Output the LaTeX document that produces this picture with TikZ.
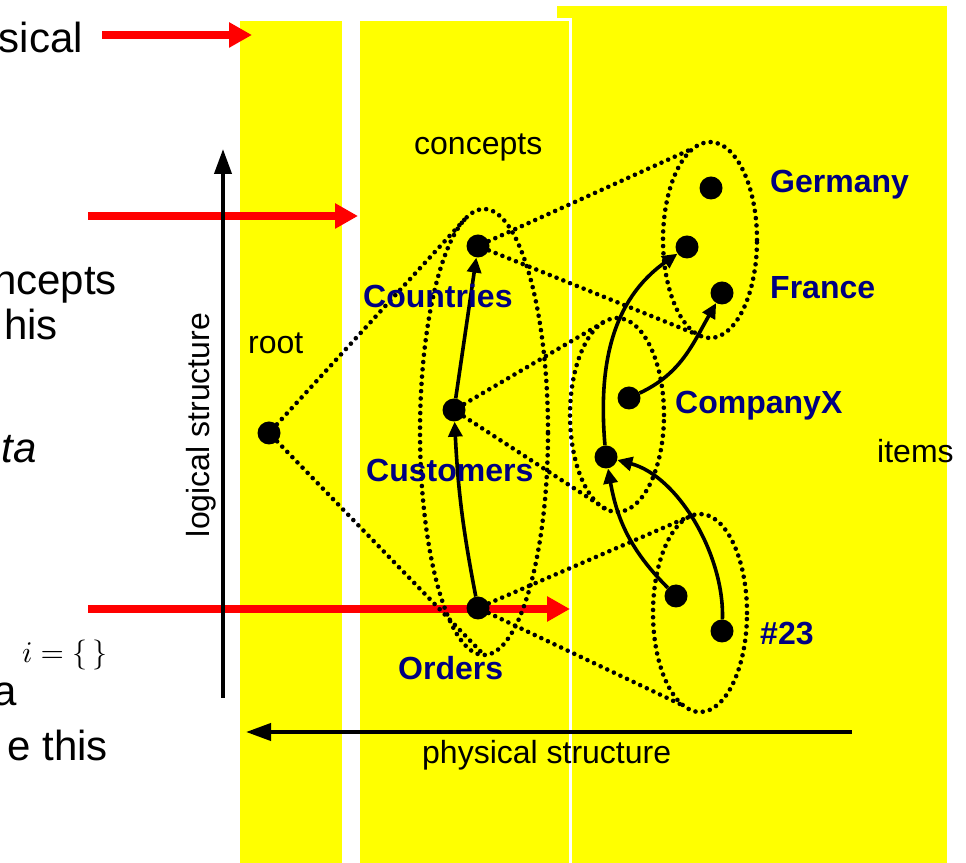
\documentclass[tikz,border=0pt]{standalone}
\usepackage{fontspec}
\setmainfont{Liberation Sans}
\usetikzlibrary{arrows.meta,positioning,shapes.geometric}
\definecolor{labelblue}{RGB}{0,0,128}
\definecolor{boxyellow}{RGB}{255,255,0}

\begin{document}
\begin{tikzpicture}[
    x=1pt, y=1pt,
    dot/.style={circle, fill=black, inner sep=0pt, minimum size=23pt},
    lbl/.style={font=\fontsize{32}{38}\selectfont\bfseries, text=labelblue,
                inner sep=0pt, anchor=base west},
    txt/.style={font=\fontsize{32}{38}\selectfont, inner sep=0pt, anchor=base west},
    slide/.style={font=\fontsize{42}{50}\selectfont, inner sep=0pt, anchor=base east},
    dots/.style={line width=4.6pt, line cap=round, dash pattern=on 0pt off 7.3pt},
    cloud/.style={ellipse, draw, dots, inner sep=0pt, outer sep=0pt},
    arr/.style={-{Triangle[length=15pt,width=14pt]}, line width=3.6pt},
    axis/.style={-{Triangle[length=25pt,width=17pt]}, line width=4pt},
    redarr/.style={-{Triangle[length=23pt,width=24pt]}, draw=red, line width=7.5pt}
  ]
  \useasboundingbox (0,0) rectangle (966,862);

  % yellow columns
  \fill[boxyellow] (557,-5) rectangle (947,856);
  \fill[boxyellow] (240,-5) rectangle (342,841);
  \filldraw[fill=boxyellow, draw=white, line width=3pt] (358.5,-5) rectangle (570.5,842.5);

  % slide text cut off at the left edge
  \node[slide] (t1) at (83,809) {sical};
  \node[slide] (t2) at (117,567) {ncepts};
  \node[slide] (t3) at (58,522) {his};
  \node[slide, font=\fontsize{42}{50}\selectfont\itshape] (t4) at (37,399) {ta};
  \node[inner sep=0pt, anchor=base east, scale=3] (t5) at (108,199) {$i=\{\,\}$};
  \node[slide] (t6) at (17,156) {a};
  \node[slide] (t7) at (108,102) {e this};

  \coordinate (r1a) at (102,827);
  \coordinate (r1b) at (252,827);
  \coordinate (r2a) at (88,646);
  \coordinate (r2b) at (358,646);
  \coordinate (r3a) at (88,253);
  \coordinate (r3b) at (570,253);
  \draw[redarr] (r1a) -- (r1b);
  \draw[redarr] (r2a) -- (r2b);
  \draw[redarr] (r3a) -- (r3b);

  % axes
  \coordinate (logbot) at (223,164);
  \coordinate (logtop) at (223,713);
  \coordinate (physR) at (852,130);
  \coordinate (physL) at (246,130);
  \draw[axis] (logbot) -- (logtop);
  \draw[axis] (physR) -- (physL);
  \node[txt, rotate=90, anchor=base] (logical) at (209,437) {logical structure};
  \node[txt] (physical) at (422,99) {physical structure};
  \node[txt] (concepts) at (414,707) {concepts};
  \node[txt] (rootlbl) at (248,508) {root};
  \node[txt] (items) at (877,399) {items};

  % sets
  \node[cloud, minimum width=128pt, minimum height=446pt] (conceptset) at (484,430) {};
  \node[cloud, minimum width=94pt, minimum height=196pt] (countryset) at (710,622) {};
  \node[cloud, minimum width=94pt, minimum height=194pt] (companyset) at (617,447) {};
  \node[cloud, minimum width=94pt, minimum height=198pt] (orderset) at (700,249) {};

  \node[dot] (root) at (269,429) {};
  \node[dot] (countries) at (478,616) {};
  \node[dot] (customers) at (454,452) {};
  \node[dot] (orders) at (478,254) {};
  \node[dot] (germany) at (711,674) {};
  \node[dot] (midland) at (687,615) {};
  \node[dot] (france) at (722,569) {};
  \node[dot] (companyx) at (629,464) {};
  \node[dot] (companylow) at (606,405) {};
  \node[dot] (itemone) at (676,266) {};
  \node[dot] (item23) at (722,231) {};

  \draw[dots] (root) -- (conceptset.95);
  \draw[dots] (root) -- (conceptset.south);
  \draw[dots] (countries) -- (countryset.100);
  \draw[dots] (countries) -- (countryset.266);
  \draw[dots] (customers) -- (companyset.96);
  \draw[dots] (customers) -- (companyset.264);
  \draw[dots] (orders) -- (orderset.96);
  \draw[dots] (orders) -- (orderset.260);

  \draw[arr] (orders) to[bend left=4] (customers);
  \draw[arr] (customers) -- (countries);
  \draw[arr] (companylow) to[out=95, in=215] (midland);
  \draw[arr] (companyx) to[out=25, in=240] (france);
  \draw[arr] (itemone) to[out=135, in=-80] (companylow);
  \draw[arr] (item23) to[out=88, in=-15, looseness=0.85] (companylow);

  \node[lbl] (germanylbl) at (770,669) {Germany};
  \node[lbl] (countrieslbl) at (363,554) {Countries};
  \node[lbl] (francelbl) at (770,563) {France};
  \node[lbl] (companylbl) at (675,448) {CompanyX};
  \node[lbl] (customerslbl) at (366,380) {Customers};
  \node[lbl] (itemlbl) at (760,217) {\#23};
  \node[lbl] (orderslbl) at (398,182) {Orders};
\end{tikzpicture}
\end{document}
